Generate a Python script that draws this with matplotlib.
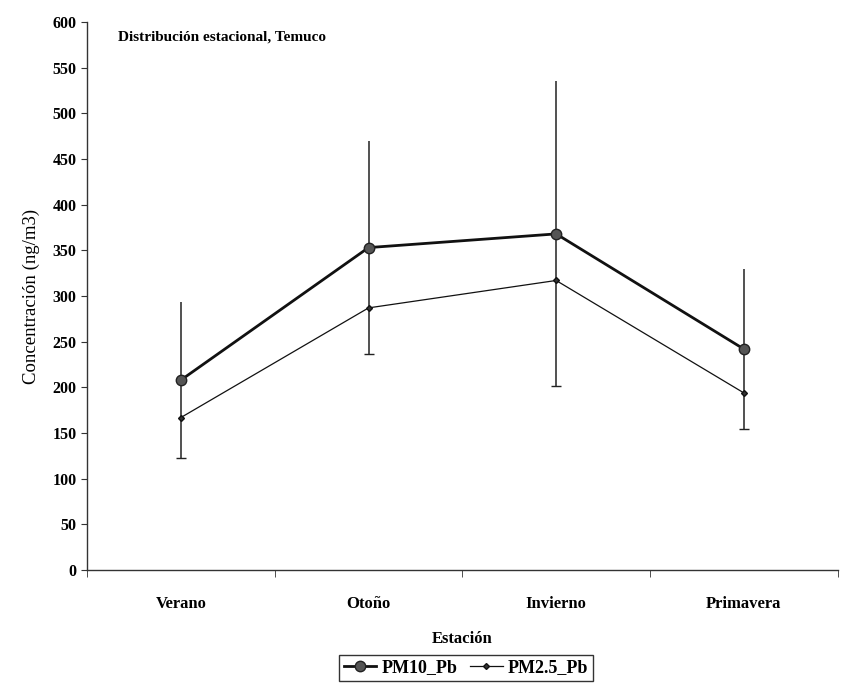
import numpy as np
import matplotlib
matplotlib.use('Agg')
import matplotlib.pyplot as plt

# Seasonal lead concentrations, Temuco
estaciones = ['Verano', 'Otoño', 'Invierno', 'Primavera']
pm10_pb = [208, 353, 368, 242]
pm10_err = [85, 117, 167, 88]
pm25_pb = [167, 287, 317, 194]

plt.rcParams['font.family'] = ['Liberation Serif', 'DejaVu Serif']

x = np.arange(len(estaciones))

fig = plt.figure(figsize=(8.46, 6.86), dpi=100)
ax = fig.add_axes([0.103, 0.169, 0.887, 0.799])

# error bars: line going up with no cap, small cap at the bottom
ax.errorbar(x, pm10_pb, yerr=[np.zeros(len(x)), pm10_err], fmt='none',
            ecolor='#222222', elinewidth=1.1, capsize=0)
ax.errorbar(x, pm10_pb, yerr=[pm10_err, np.zeros(len(x))], fmt='none',
            ecolor='#222222', elinewidth=1.1, capsize=3.5, capthick=1.0)

ax.plot(x, pm10_pb, color='#111111', lw=2.0, marker='o', markersize=7.5,
        markerfacecolor='#555555', markeredgecolor='#222222', label='PM10_Pb', zorder=3)
ax.plot(x, pm25_pb, color='#111111', lw=0.9, marker='D', markersize=3,
        markerfacecolor='#333333', markeredgecolor='#111111', label='PM2.5_Pb', zorder=3)

ax.set_xlim(-0.5, 3.5)
ax.set_ylim(0, 600)
ax.set_yticks(np.arange(0, 601, 50))

ax.set_xticks(x)
ax.set_xticklabels(estaciones, fontsize=12, fontweight='bold')
ax.set_xticks(np.arange(-0.5, 4.0, 1.0), minor=True)
ax.tick_params(axis='x', which='major', length=0, pad=19)
ax.tick_params(axis='x', which='minor', length=5, direction='out', color='#333333')
ax.tick_params(axis='y', length=4, direction='out', color='#333333', labelsize=11.5)
for lab in ax.get_yticklabels():
    lab.set_fontweight('bold')

for s in ['top', 'right']:
    ax.spines[s].set_visible(False)
for s in ['left', 'bottom']:
    ax.spines[s].set_color('#333333')
    ax.spines[s].set_linewidth(1.0)

ax.set_ylabel('Concentración (ng/m3)', fontsize=13.5, labelpad=9)
ax.set_xlabel('Estación', fontsize=12, fontweight='bold', labelpad=13)

ax.text(0.041, 0.973, 'Distribución estacional, Temuco', transform=ax.transAxes,
        fontsize=11, fontweight='bold', va='center', ha='left')

leg = ax.legend(loc='upper center', bbox_to_anchor=(0.505, -0.138), ncol=2,
                frameon=True, fancybox=False, edgecolor='black',
                handlelength=1.8, handletextpad=0.3, columnspacing=0.7,
                borderpad=0.25, prop={'weight': 'bold', 'size': 13})
leg.get_frame().set_linewidth(1.0)

plt.savefig('out.png', dpi=100)
